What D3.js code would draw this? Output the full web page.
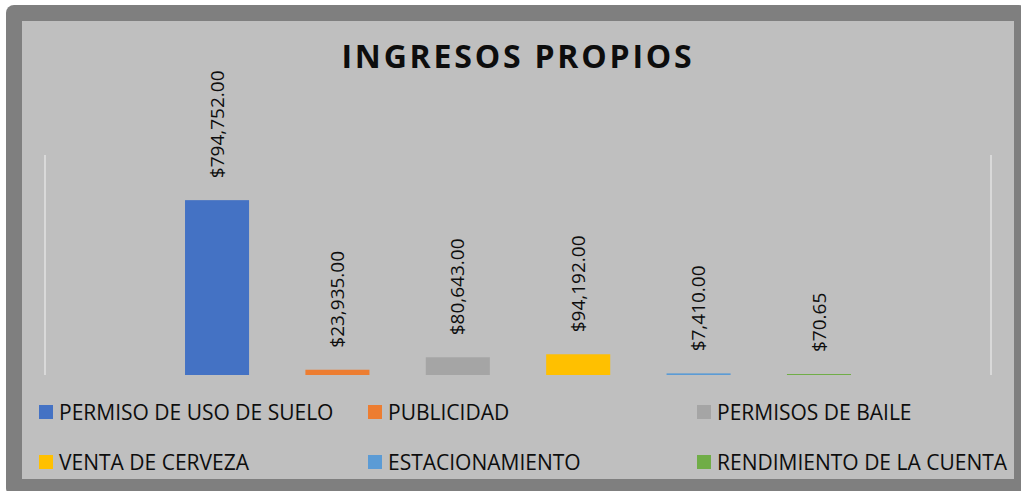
<!DOCTYPE html>
<html>
<head>
<meta charset="utf-8">
<script src="https://cdn.jsdelivr.net/npm/d3@7"></script>
<style>
  body { margin: 0; background: #fff; }
  text { font-family: "Open Sans", sans-serif; fill: #0d0d0d; }
</style>
</head>
<body>
<script>
var width = 1021
var height = 491

// data
var series = ["PERMISO DE USO DE SUELO", "PUBLICIDAD", "PERMISOS DE BAILE",
  "VENTA DE CERVEZA", "ESTACIONAMIENTO", "RENDIMIENTO DE LA CUENTA"]
var values = [794752.00, 23935.00, 80643.00, 94192.00, 7410.00, 70.65]
var colors = ["#4472c4", "#ed7d31", "#a5a5a5", "#ffc000", "#5b9bd5", "#70ad47"]
var yDomain = [0, 1000000]

var svg = d3.select("body").append("svg")
  .attr("width", width)
  .attr("height", height)

// frame
svg.append("rect")
  .attr("x", 6).attr("y", 5)
  .attr("width", width).attr("height", height)
  .attr("rx", 8).attr("ry", 8)
  .style("fill", "#7f7f7f")
svg.append("rect")
  .attr("x", 22).attr("y", 21)
  .attr("width", 992).attr("height", 458)
  .style("fill", "#bfbfbf")

svg.append("text")
  .attr("x", 518).attr("y", 68)
  .attr("text-anchor", "middle")
  .style("font-size", "32px")
  .style("font-weight", "bold")
  .style("letter-spacing", "2.8px")
  .text("INGRESOS PROPIOS")

var x = d3.scaleBand()
  .domain(series)
  .range([45, 991])
  .paddingInner(0.468)
  .paddingOuter(1.163)

var y = d3.scaleLinear()
  .domain(yDomain)
  .range([375, 155])

// side lines of the plot area
svg.selectAll(".side")
  .data(x.range())
  .enter().append("line")
  .attr("class", "side")
  .attr("x1", function (d) { return d }).attr("x2", function (d) { return d })
  .attr("y1", y(yDomain[1])).attr("y2", y(0))
  .style("stroke", "#d9d9d9")
  .style("stroke-width", 2)

svg.selectAll(".bar")
  .data(values)
  .enter().append("rect")
  .attr("class", "bar")
  .attr("x", function (d, i) { return x(series[i]) })
  .attr("width", x.bandwidth())
  .attr("y", function (d) { return Math.min(y(d), y(0) - 1) })
  .attr("height", function (d) { return Math.max(y(0) - y(d), 1) })
  .style("fill", function (d, i) { return colors[i] })

var fmt = d3.format("$,.2f")

svg.selectAll(".label")
  .data(values)
  .enter().append("text")
  .attr("class", "label")
  .attr("transform", function (d, i) {
    var cx = x(series[i]) + x.bandwidth() / 2
    var top = Math.min(y(d), y(0) - 1)
    return "translate(" + cx + "," + (top - 22) + ") rotate(-90)"
  })
  .attr("dy", "0.35em")
  .style("font-size", "19px")
  .text(function (d) { return fmt(d) })

// legend: 3 columns, 2 rows
var legendX = [39, 368, 697]
var legendY = [412, 462]
var legend = svg.selectAll(".legend")
  .data(series)
  .enter().append("g")
  .attr("class", "legend")
  .attr("transform", function (d, i) {
    return "translate(" + legendX[i % 3] + "," + legendY[Math.floor(i / 3)] + ")"
  })

legend.append("rect")
  .attr("x", 0).attr("y", -7)
  .attr("width", 14).attr("height", 14)
  .style("fill", function (d, i) { return colors[i] })

legend.append("text")
  .attr("x", 20)
  .attr("dy", "0.36em")
  .style("font-size", "21px")
  .text(function (d) { return d })
</script>
</body>
</html>
